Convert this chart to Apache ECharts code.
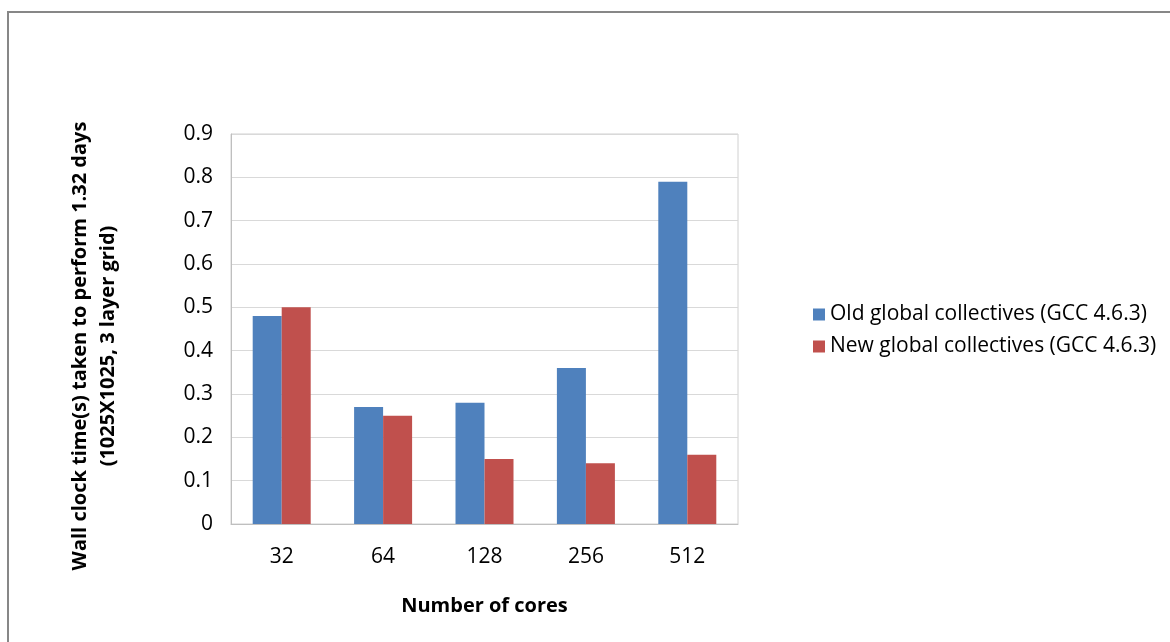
<!DOCTYPE html>
<html>
<head>
<meta charset="utf-8">
<script src="https://cdn.jsdelivr.net/npm/echarts@6/dist/echarts.min.js"></script>
<style>
  html, body { margin: 0; padding: 0; background: #fff; }
  #chart { width: 1170px; height: 642px; }
</style>
</head>
<body>
<div id="chart"></div>
<script>
// Wall clock time per core count, old vs new global collectives
const cores = ['32', '64', '128', '256', '512'];
const oldCollectives = [0.48, 0.27, 0.28, 0.36, 0.79];
const newCollectives = [0.50, 0.25, 0.15, 0.14, 0.16];
const seriesNames = ['Old global collectives (GCC 4.6.3)', 'New global collectives (GCC 4.6.3)'];
const yTitleLines = ['Wall clock time(s) taken to perform 1.32 days', '(1025X1025, 3 layer grid)'];
const xTitle = 'Number of cores';

const FONT = 'Open Sans';
const chart = echarts.init(document.getElementById('chart'), null, { renderer: 'canvas' });

chart.setOption({
  backgroundColor: '#ffffff',
  animation: false,
  textStyle: { fontFamily: FONT },
  grid: {
    left: 231, right: 432, top: 134, bottom: 118,
    show: true, borderColor: '#d0d0d0', borderWidth: 1
  },
  legend: {
    orient: 'vertical',
    left: 808, top: 299,
    itemWidth: 12, itemHeight: 12, itemGap: 11,
    icon: 'rect',
    textStyle: { fontFamily: FONT, fontSize: 21, color: '#000' },
    data: seriesNames
  },
  xAxis: {
    type: 'category',
    data: cores,
    axisLine: { lineStyle: { color: '#bfbfbf' } },
    axisTick: { show: false },
    axisLabel: { fontFamily: FONT, fontSize: 21, color: '#000', margin: 23 },
    name: xTitle,
    nameLocation: 'middle',
    nameGap: 72,
    nameTextStyle: { fontFamily: FONT, fontSize: 20, fontWeight: 'bold', color: '#000' }
  },
  yAxis: {
    type: 'value',
    min: 0, max: 0.9, interval: 0.1,
    axisLine: { show: true, lineStyle: { color: '#bfbfbf' } },
    axisTick: { show: false },
    splitLine: { lineStyle: { color: '#d9d9d9' } },
    axisLabel: {
      fontFamily: FONT, fontSize: 21, color: '#000', margin: 18,
      formatter: v => (Math.round(v * 10) / 10).toString()
    }
  },
  series: [
    {
      name: seriesNames[0], type: 'bar', data: oldCollectives,
      barWidth: 29, barGap: '0%',
      itemStyle: { color: '#4f81bd' }
    },
    {
      name: seriesNames[1], type: 'bar', data: newCollectives,
      barWidth: 29, barGap: '0%',
      itemStyle: { color: '#c0504d' }
    }
  ],
  graphic: [
    {
      type: 'rect', silent: true, z: -1,
      shape: { x: 8, y: 12, width: 1300, height: 800 },
      style: { fill: 'none', stroke: '#878787', lineWidth: 2 }
    },
    {
      type: 'text', silent: true,
      x: 80, y: 346, rotation: Math.PI / 2,
      style: {
        text: yTitleLines[0], fontFamily: FONT, fontSize: 20, fontWeight: 'bold',
        fill: '#000', align: 'center', verticalAlign: 'middle'
      }
    },
    {
      type: 'text', silent: true,
      x: 108, y: 346, rotation: Math.PI / 2,
      style: {
        text: yTitleLines[1], fontFamily: FONT, fontSize: 20, fontWeight: 'bold',
        fill: '#000', align: 'center', verticalAlign: 'middle'
      }
    }
  ]
});
</script>
</body>
</html>
